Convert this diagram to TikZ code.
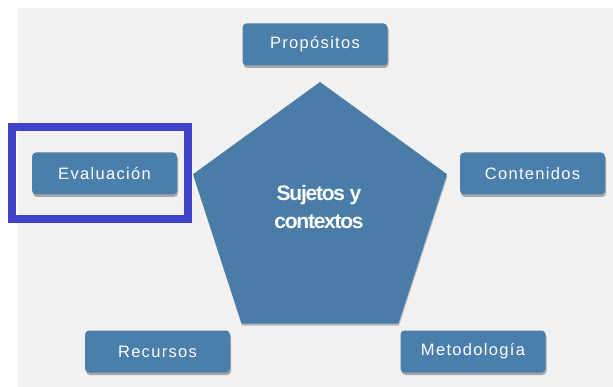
\documentclass[tikz,border=0pt]{standalone}
\usepackage{fontspec}
\setmainfont{Liberation Sans}
\newfontfamily\boxfont[LetterSpace=8]{Liberation Sans}
\newfontfamily\centerfont[LetterSpace=-6]{Liberation Sans Bold}
\usetikzlibrary{shapes.geometric,shadows}
\definecolor{bgcol}{HTML}{F1F1F1}
\definecolor{boxblue}{HTML}{4A7EAB}
\definecolor{penblue}{HTML}{4A7CA8}
\definecolor{framecol}{HTML}{4242C8}
\tikzset{
  itembox/.style={draw=none, fill=boxblue, rounded corners=4pt,
    minimum width=145pt, minimum height=42pt, inner sep=0pt,
    text=white, font=\boxfont\fontsize{16.5}{18}\selectfont,
    drop shadow={shadow xshift=1pt, shadow yshift=-2.5pt, opacity=0.45, fill=black!70}},
  penta/.style={regular polygon, regular polygon sides=5, minimum size=267pt,
    inner sep=0pt, fill=penblue, draw=none,
    drop shadow={shadow xshift=0.5pt, shadow yshift=-2pt, opacity=0.35, fill=black!70}},
  centertext/.style={text=white, align=center, font=\centerfont\fontsize{21}{28}\selectfont},
  hiframe/.style={draw=framecol, line width=8pt}
}
\begin{document}
\begin{tikzpicture}[x=1pt,y=-1pt]
  \useasboundingbox (0,0) rectangle (613,387);
  \fill[white] (0,0) rectangle (613,387);
  \fill[bgcol] (18,8) rectangle (613,387);
  \node[penta] (pent) at (320,215.5) {};
  \node[centertext] (ctext) at (319,207) {Sujetos y\\contextos};
  \node[itembox] (prop) at (315,44.5) {Propósitos};
  \node[itembox] (eval) at (104.5,173.5) {Evaluación};
  \node[itembox] (cont) at (532.5,173.5) {Contenidos};
  \node[itembox] (recu) at (157.5,351.5) {Recursos};
  \node[itembox] (meto) at (473,351.5) {Metodología};
  \node[hiframe, minimum width=176pt, minimum height=92pt, inner sep=0pt] (frame) at (100,173) {};
\end{tikzpicture}
\end{document}
